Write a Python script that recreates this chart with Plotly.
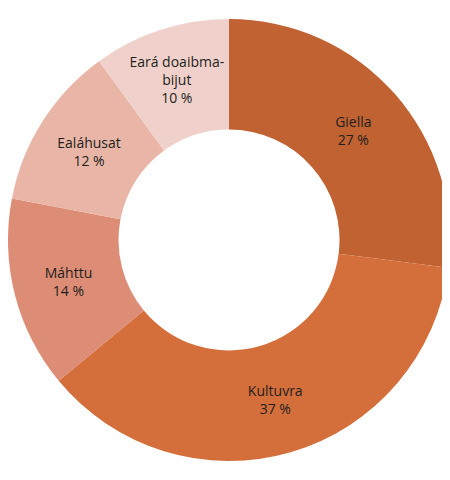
import plotly.graph_objs as go

labels = ["Giella", "Kultuvra", "Máhttu", "Ealáhusat", "Eará doaibma-<br>bijut"]
values = [27, 37, 14, 12, 10]
colors = ["#C06232", "#D46E3B", "#DD8C75", "#E8B5A6", "#F0D0CA"]

fig = go.Figure()
fig.add_trace(go.Pie(
    labels=labels,
    values=values,
    hole=0.5,
    sort=False,
    direction='clockwise',
    rotation=0,
    marker=dict(colors=colors, line=dict(width=0)),
    texttemplate='%{label}<br>%{value} %',
    textposition='inside',
    insidetextorientation='horizontal',
    textfont=dict(family='Open Sans', size=14, color='#231F20'),
    hoverinfo='label+value',
    showlegend=False,
))

# page body adds an 8px offset, so the figure is a bit smaller and pulled up
fig.update_layout(
    width=442,
    height=472,
    margin=dict(l=0, r=0, t=11, b=19),
    paper_bgcolor='white',
    plot_bgcolor='white',
    uniformtext=dict(minsize=14, mode='show'),
)

fig.write_html("out.html")
